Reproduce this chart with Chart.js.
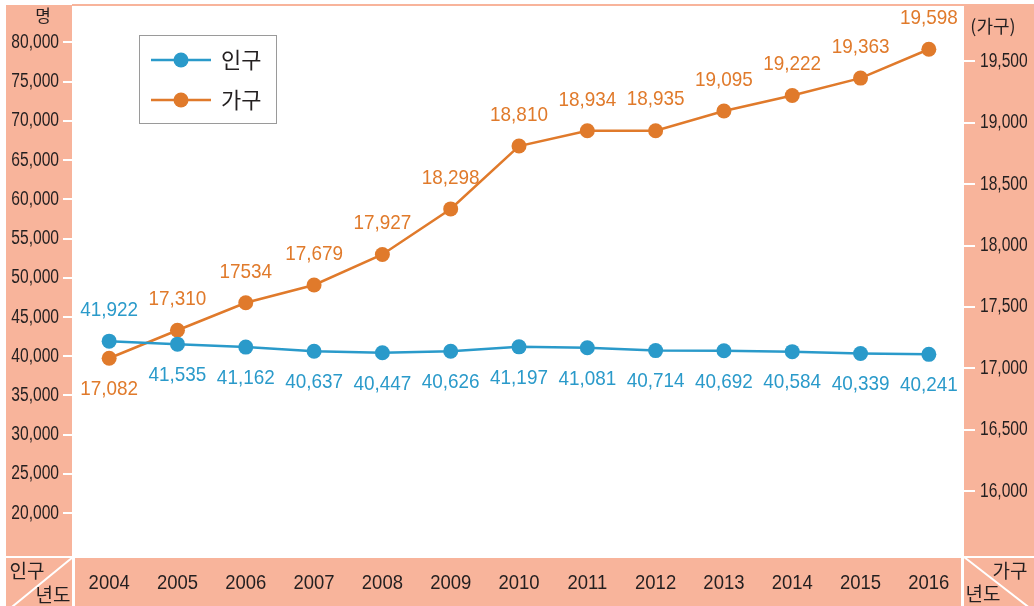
<!DOCTYPE html>
<html><head><meta charset="utf-8">
<script src="https://cdn.jsdelivr.net/npm/chart.js@4"></script>
<style>html,body{margin:0;padding:0;background:#fff}#wrap{width:1034px;height:606px;position:relative}canvas{display:block}</style>
</head><body><div id="wrap"><canvas id="c" width="1034" height="606"></canvas></div>
<script>
const years = ['2004','2005','2006','2007','2008','2009','2010','2011','2012','2013','2014','2015','2016'];
const population = [41922,41535,41162,40637,40447,40626,41197,41081,40714,40692,40584,40339,40241];
const households = [17082,17310,17534,17679,17927,18298,18810,18934,18935,19095,19222,19363,19598];
const populationLabels = ['41,922','41,535','41,162','40,637','40,447','40,626','41,197','41,081','40,714','40,692','40,584','40,339','40,241'];
const householdLabels = ['17,082','17,310','17534','17,679','17,927','18,298','18,810','18,934','18,935','19,095','19,222','19,363','19,598'];
const leftTicks = [20000,25000,30000,35000,40000,45000,50000,55000,60000,65000,70000,75000,80000];
const rightTicks = [16000,16500,17000,17500,18000,18500,19000,19500];
const leftRange = [14534, 84449];
const rightRange = [15472, 19938];

const SALMON = '#F8B49B';
const BLUE = '#2A9ACA';
const ORANGE = '#E07A2B';
const TEXT = '#231F20';
const SANS = "'Liberation Sans',Arial,sans-serif";
const KR = "'Noto Sans CJK KR','Noto Sans',sans-serif";

function condensedText(ctx, text, x, y, align, sx) {
  ctx.save();
  ctx.translate(x, y);
  ctx.scale(sx, 1);
  ctx.textAlign = align;
  ctx.textBaseline = 'middle';
  ctx.fillText(text, 0, 0);
  ctx.restore();
}

const bgPlugin = {
  id: 'bg',
  beforeDraw(chart) {
    const ctx = chart.ctx;
    ctx.save();
    ctx.fillStyle = '#fff';
    ctx.fillRect(0, 0, 1034, 606);
    ctx.fillStyle = SALMON;
    ctx.fillRect(72, 4, 962, 2);
    ctx.fillRect(6, 5, 66, 551);
    ctx.fillRect(964, 5, 70, 551);
    ctx.fillRect(6, 558, 66, 48);
    ctx.fillRect(75, 558, 886, 48);
    ctx.fillRect(964, 558, 70, 48);
    ctx.strokeStyle = '#fff';
    ctx.lineWidth = 2;
    ctx.beginPath();
    ctx.moveTo(73, 557); ctx.lineTo(7, 611);
    ctx.moveTo(964, 557); ctx.lineTo(1031, 609);
    ctx.stroke();
    ctx.fillStyle = TEXT;
    ctx.textAlign = 'center';
    ctx.textBaseline = 'middle';
    ctx.font = '17px ' + KR;
    ctx.fillText('명', 43, 16);
    ctx.font = '18px ' + KR;
    ctx.fillText('(가구)', 993, 26);
    ctx.font = '19px ' + KR;
    ctx.fillText('인구', 27, 571);
    ctx.fillText('년도', 53, 595);
    ctx.fillText('가구', 1010, 571);
    ctx.fillText('년도', 983, 594);
    ctx.restore();
  }
};

const labelPlugin = {
  id: 'vlabels',
  afterDraw(chart) {
    const ctx = chart.ctx;
    ctx.save();
    // axis tick labels
    ctx.fillStyle = TEXT;
    ctx.font = '20px ' + SANS;
    const sL = chart.scales.yL, sR = chart.scales.yR, sX = chart.scales.x;
    leftTicks.forEach(v => condensedText(ctx, v.toLocaleString('en-US'), 59, sL.getPixelForValue(v), 'right', 0.78));
    rightTicks.forEach(v => condensedText(ctx, v.toLocaleString('en-US'), 980, sR.getPixelForValue(v), 'left', 0.78));
    ctx.font = '21px ' + SANS;
    years.forEach((y, i) => condensedText(ctx, y, sX.getPixelForValue(i), 583, 'center', 0.88));
    // value labels
    ctx.font = '21px ' + SANS;
    chart.data.datasets.forEach((ds, di) => {
      const meta = chart.getDatasetMeta(di);
      ctx.fillStyle = ds.borderColor;
      meta.data.forEach((pt, i) => {
        const side = ds.labelSide(i);
        condensedText(ctx, ds.valueLabels[i], pt.x, pt.y + side * 31, 'center', 0.9);
      });
    });
    // legend
    ctx.strokeStyle = '#9a9a9a';
    ctx.lineWidth = 1;
    ctx.strokeRect(139.5, 35.5, 137, 88);
    const rows = [60, 100];
    ctx.textBaseline = 'middle';
    chart.data.datasets.forEach((ds, di) => {
      const y = rows[di];
      ctx.strokeStyle = ds.borderColor;
      ctx.lineWidth = 2.5;
      ctx.beginPath(); ctx.moveTo(151, y); ctx.lineTo(211, y); ctx.stroke();
      ctx.fillStyle = ds.borderColor;
      ctx.beginPath(); ctx.arc(181, y, 7.5, 0, Math.PI * 2); ctx.fill();
      ctx.fillStyle = TEXT;
      ctx.textAlign = 'left';
      ctx.font = '22px ' + KR;
      ctx.fillText(ds.label, 221, y);
    });
    ctx.restore();
  }
};

new Chart(document.getElementById('c'), {
  type: 'line',
  data: {
    labels: years,
    datasets: [
      { label: '인구', data: population, yAxisID: 'yL', borderColor: BLUE, backgroundColor: BLUE,
        borderWidth: 2.5, pointRadius: 7.5, pointBorderWidth: 0, pointHoverRadius: 7.5,
        valueLabels: populationLabels, labelSide: i => (i === 0 ? -1 : 1) },
      { label: '가구', data: households, yAxisID: 'yR', borderColor: ORANGE, backgroundColor: ORANGE,
        borderWidth: 2.5, pointRadius: 7.5, pointBorderWidth: 0, pointHoverRadius: 7.5,
        valueLabels: householdLabels, labelSide: i => (i === 0 ? 1 : -1) }
    ]
  },
  options: {
    responsive: false,
    animation: false,
    devicePixelRatio: 1,
    layout: { padding: { top: 6, left: 0, right: 0, bottom: 0 } },
    plugins: { legend: { display: false }, tooltip: { enabled: false } },
    scales: {
      x: {
        offset: true,
        grid: { display: false, drawTicks: false },
        border: { display: false },
        ticks: { display: false },
        afterFit(s) { s.height = 50; }
      },
      yL: {
        position: 'left',
        min: leftRange[0], max: leftRange[1],
        afterBuildTicks(s) { s.ticks = leftTicks.map(v => ({ value: v })); },
        grid: { drawOnChartArea: false, drawTicks: true, tickLength: 12, color: '#fff', lineWidth: 2 },
        border: { display: false },
        ticks: { display: false },
        afterFit(s) { s.width = 75; }
      },
      yR: {
        position: 'right',
        min: rightRange[0], max: rightRange[1],
        afterBuildTicks(s) { s.ticks = rightTicks.map(v => ({ value: v })); },
        grid: { drawOnChartArea: false, drawTicks: true, tickLength: 12, color: '#fff', lineWidth: 2 },
        border: { display: false },
        ticks: { display: false },
        afterFit(s) { s.width = 71; }
      }
    }
  },
  plugins: [bgPlugin, labelPlugin]
});
</script></body></html>
